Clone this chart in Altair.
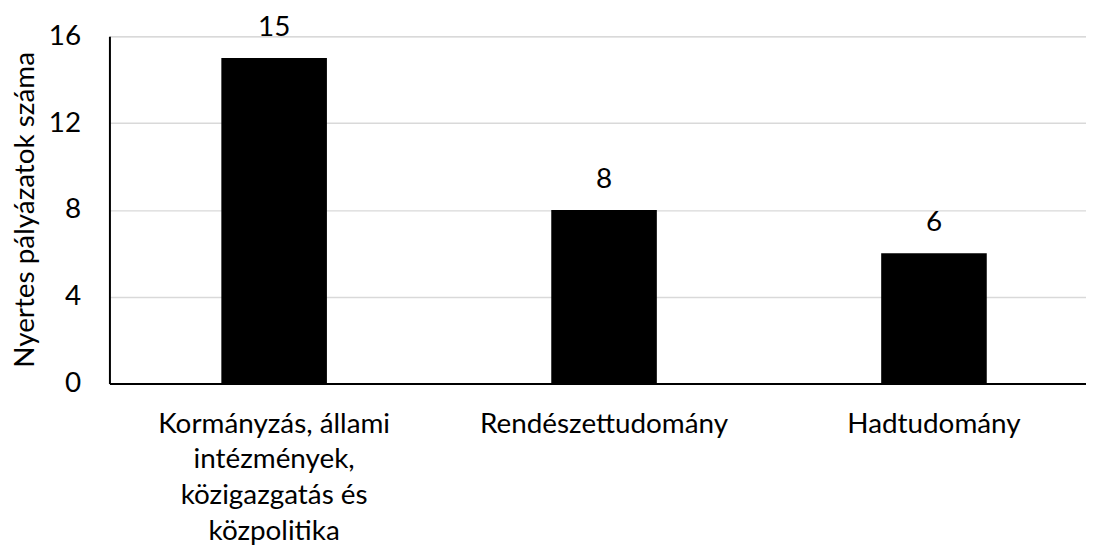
import altair as alt
import pandas as pd

categories = [
    "Kormányzás, állami\nintézmények,\nközigazgatás és\nközpolitika",
    "Rendészettudomány",
    "Hadtudomány",
]
values = [15, 8, 6]
y_ticks = [0, 4, 8, 12, 16]

df = pd.DataFrame({"cat": categories, "val": values})

FONT = "Lato"
FS = 28

x = alt.X(
    "cat:N",
    sort=None,
    title=None,
    scale=alt.Scale(paddingInner=0.68, paddingOuter=0.32, align=0.53),
    axis=alt.Axis(
        labelAngle=0,
        labelExpr="split(datum.label, '\\n')",
        labelFont=FONT,
        labelFontSize=FS,
        labelColor="black",
        labelLimit=0,
        labelPadding=27,
        labelLineHeight=36,
        labelBaseline="top",
        ticks=False,
        domainColor="#000000",
        domainWidth=2,
        grid=False,
    ),
)

y = alt.Y(
    "val:Q",
    scale=alt.Scale(domain=[0, 16], nice=False),
    axis=alt.Axis(
        values=y_ticks,
        title="Nyertes pályázatok száma",
        titleFont=FONT,
        titleFontSize=FS,
        titleFontWeight="normal",
        titleColor="black",
        titleX=-84,
        titleY=174,
        titleAngle=-90,
        titleAlign="center",
        titleBaseline="middle",
        labelFont=FONT,
        labelFontSize=FS,
        labelColor="black",
        labelPadding=29,
        ticks=False,
        domainColor="#000000",
        domainWidth=2,
        gridColor="#d9d9d9",
        gridWidth=1.5,
    ),
)

bars = alt.Chart(df).mark_bar(color="black").encode(x=x, y=y)
text = alt.Chart(df).mark_text(
    font=FONT, fontSize=FS, color="black", baseline="alphabetic", dy=-22
).encode(x=alt.X("cat:N", sort=None), y="val:Q", text="val:Q")

chart = (
    alt.layer(bars, text)
    .properties(
        width=982,
        height=349,
        autosize=alt.AutoSizeParams(type="none"),
        padding={"left": 102, "top": 27, "right": 0, "bottom": 164},
    )
    .configure_view(stroke=None)
    .configure(background="white")
)

chart.save("out.html", embed_options={"renderer": "svg", "actions": False})
